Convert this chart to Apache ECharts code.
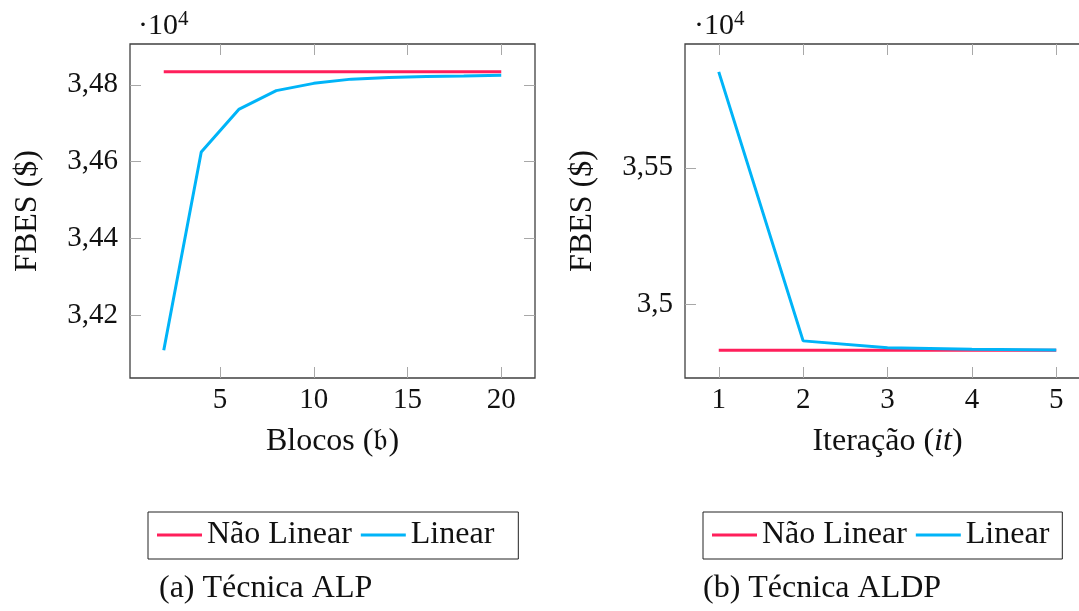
<!DOCTYPE html>
<html>
<head>
<meta charset="utf-8">
<script src="https://cdn.jsdelivr.net/npm/echarts@6/dist/echarts.min.js"></script>
<style>
html,body{margin:0;padding:0;background:#fff;}
#chart{width:1079px;height:611px;}
</style>
</head>
<body>
<div id="chart"></div>
<script>
// ---- Data ----
const blocos = [2, 4, 6, 8, 10, 12, 14, 16, 18, 20];
const alpNaoLinear = [34834, 34834, 34834, 34834, 34834, 34834, 34834, 34834, 34834, 34834];
const alpLinear = [34109, 34625, 34736, 34785, 34804, 34815, 34819, 34822, 34823, 34825];

const iteracoes = [1, 2, 3, 4, 5];
const aldpNaoLinear = [34833, 34833, 34833, 34833, 34833];
const aldpLinear = [35851, 34867, 34842, 34836, 34834];

const alpXTicks = [5, 10, 15, 20];
const alpYTicks = [34200, 34400, 34600, 34800];
const aldpXTicks = [1, 2, 3, 4, 5];
const aldpYTicks = [35000, 35500];

const seriesNames = ['Não Linear', 'Linear'];
const captions = ['(a) Técnica ALP', '(b) Técnica ALDP'];

// ---- Style ----
const FONT = 'Liberation Serif';
const RED = '#ff1f5b';
const BLUE = '#00b4f8';
const TICK = '#a8a8a8';
const FRAME = '#404040';
const NUM_SIZE = 29;
const WORD_SIZE = 32;

function enlarge(arr) {
  const mn = Math.min.apply(null, arr), mx = Math.max.apply(null, arr);
  const d = (mx - mn) * 0.1;
  return [mn - d, mx + d];
}
function pairs(xs, ys) { return xs.map((x, i) => [x, ys[i]]); }
function fmtY(v) { return String(parseFloat((v / 1e4).toFixed(4))).replace('.', ','); }

const xR0 = enlarge(blocos), yR0 = enlarge(alpNaoLinear.concat(alpLinear));
const xR1 = enlarge(iteracoes), yR1 = enlarge(aldpNaoLinear.concat(aldpLinear));

const tickStyle = { show: true, inside: true, length: 11, lineStyle: { color: TICK, width: 1 } };
const numText = { fontFamily: FONT, fontSize: NUM_SIZE, color: '#111' };
const wordText = { fontFamily: FONT, fontSize: WORD_SIZE, color: '#111' };

function xAxisPair(gi, range, ticks, name, nameRich) {
  return [
    {
      type: 'value', gridIndex: gi, min: range[0], max: range[1], position: 'bottom',
      splitLine: { show: false }, axisLine: { show: false },
      axisTick: Object.assign({ customValues: ticks }, tickStyle),
      axisLabel: Object.assign({ customValues: ticks, margin: 8 }, numText),
      name: name, nameLocation: 'middle', nameGap: 48,
      nameTextStyle: Object.assign({ lineHeight: 32, rich: nameRich || {} }, wordText)
    },
    {
      type: 'value', gridIndex: gi, min: range[0], max: range[1], position: 'top',
      splitLine: { show: false }, axisLine: { show: false },
      axisTick: Object.assign({ customValues: ticks }, tickStyle),
      axisLabel: { show: false }
    }
  ];
}
function yAxisPair(gi, range, ticks) {
  return [
    {
      type: 'value', gridIndex: gi, min: range[0], max: range[1], position: 'left',
      splitLine: { show: false }, axisLine: { show: false },
      axisTick: Object.assign({ customValues: ticks }, tickStyle),
      axisLabel: Object.assign({ customValues: ticks, margin: 12, formatter: fmtY }, numText),
      name: 'FBES ($)', nameLocation: 'middle', nameGap: 86,
      nameTextStyle: Object.assign({ lineHeight: 32 }, wordText)
    },
    {
      type: 'value', gridIndex: gi, min: range[0], max: range[1], position: 'right',
      splitLine: { show: false }, axisLine: { show: false },
      axisTick: Object.assign({ customValues: ticks }, tickStyle),
      axisLabel: { show: false }
    }
  ];
}

const italicRich = { i: { fontFamily: FONT, fontSize: WORD_SIZE, fontStyle: 'italic', color: '#111' } };

function legendAt(left, padRight) {
  return {
    data: seriesNames, left: left, top: 512, orient: 'horizontal',
    borderColor: '#222', borderWidth: 1, padding: [7, padRight, 8, 9],
    icon: 'rect', itemWidth: 45, itemHeight: 3, itemGap: 9,
    textStyle: Object.assign({ lineHeight: 32 }, wordText)
  };
}

function lineSeries(name, color, xi, yi, data) {
  return {
    type: 'line', name: name, xAxisIndex: xi, yAxisIndex: yi, data: data,
    symbol: 'none', showSymbol: false, animation: false,
    lineStyle: { color: color, width: 3 }, itemStyle: { color: color }
  };
}

function powerLabel(left) {
  return {
    type: 'text', left: left, top: 9,
    style: {
      text: '{a|·10}{b|4}',
      rich: {
        a: { fontFamily: FONT, fontSize: 30, fill: '#111', lineHeight: 32, verticalAlign: 'bottom' },
        b: { fontFamily: FONT, fontSize: 21, fill: '#111', lineHeight: 32, verticalAlign: 'top' }
      }
    }
  };
}

const option = {
  backgroundColor: '#fff',
  animation: false,
  grid: [
    { left: 130, top: 44, width: 405, height: 334, show: true, borderColor: FRAME, borderWidth: 1.3, backgroundColor: 'transparent', outerBoundsMode: 'none', containLabel: false },
    { left: 685, top: 44, width: 405, height: 334, show: true, borderColor: FRAME, borderWidth: 1.3, backgroundColor: 'transparent', outerBoundsMode: 'none', containLabel: false }
  ],
  xAxis: xAxisPair(0, xR0, alpXTicks, 'Blocos (𝔟)').concat(
         xAxisPair(1, xR1, aldpXTicks, 'Iteração ({i|it})', italicRich)),
  yAxis: yAxisPair(0, yR0, alpYTicks).concat(yAxisPair(1, yR1, aldpYTicks)),
  legend: [legendAt(148, 24), legendAt(703, 13)],
  series: [
    lineSeries(seriesNames[0], RED, 0, 0, pairs(blocos, alpNaoLinear)),
    lineSeries(seriesNames[1], BLUE, 0, 0, pairs(blocos, alpLinear)),
    lineSeries(seriesNames[0], RED, 2, 2, pairs(iteracoes, aldpNaoLinear)),
    lineSeries(seriesNames[1], BLUE, 2, 2, pairs(iteracoes, aldpLinear))
  ],
  graphic: [
    powerLabel(138),
    powerLabel(694),
    { type: 'text', left: 159, top: 573, style: { text: captions[0], fontFamily: FONT, fontSize: WORD_SIZE, fill: '#111' } },
    { type: 'text', left: 703, top: 573, style: { text: captions[1], fontFamily: FONT, fontSize: WORD_SIZE, fill: '#111' } }
  ]
};

const chart = echarts.init(document.getElementById('chart'), null, { renderer: 'canvas' });
chart.setOption(option);
</script>
</body>
</html>
